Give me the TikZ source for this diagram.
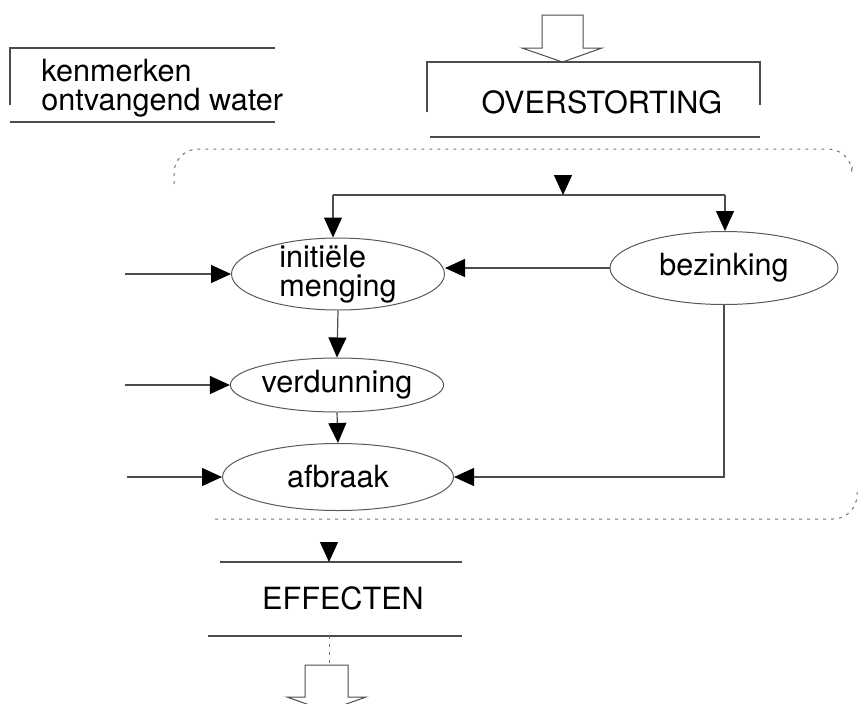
\documentclass[tikz,border=0pt]{standalone}
\usepackage{fontspec}
\setmainfont{TeX Gyre Heros}
\usepackage{tikz}
\usetikzlibrary{arrows.meta,shapes.geometric}
\newcommand{\labfont}{\fontsize{15.3}{14.8}\selectfont}
\tikzset{
  proc/.style={ellipse,draw=black!65,line width=0.5pt,inner sep=0pt,
    font=\labfont},
  lbl/.style={inner sep=0pt,font=\labfont},
  frame/.style={draw=black!70,line width=0.6pt},
  conn/.style={->,draw=black!70,line width=0.6pt},
  region/.style={draw=black!55,line width=0.5pt,dash pattern=on 1.5pt off 2.5pt,
    rounded corners=12pt},
  hollow/.style={draw=black!70,line width=0.5pt,line join=miter}
}

\begin{document}
\begin{tikzpicture}[x=0.5pt,y=-0.5pt,
  >={Triangle[length=10pt,width=9pt,color=black]}]
\useasboundingbox (0,0) rectangle (858,703);
% ---------------- inputs ----------------
\node[lbl,align=left,anchor=west] (kenm) at (41,88) {kenmerken\\ontvangend water};
\draw[frame] (275,48) -- (10,48) -- (10,105);
\draw[frame] (10,122) -- (275,122);
\draw[hollow] (542,15) -- (583,15) -- (583,48) -- (602,48) -- (562.5,62)
  -- (522,48) -- (542,48) -- cycle;
\node[lbl] (ovs) at (602,102) {OVERSTORTING};
\draw[frame] (427,112) |- (760,62) -- (760,105);
\draw[frame] (430,137) -- (760,137);
% ---------------- processes in the receiving water ----------------
\draw[region] (174,184) -- (174,149) -- (852,149) -- (852,162);
\draw[region] (215,519) -- (857,519) -- (857,492);
\node[proc,minimum width=106.5pt,minimum height=36pt,inner ysep=-4pt,
  align=left] (meng) at (338,274) {initiële\\menging};
\node[proc,minimum width=114pt,minimum height=36.5pt] (bez) at (724,268) {bezinking};
\node[proc,minimum width=105pt,minimum height=27pt] (verd) at (337,385) {verdunning};
\node[proc,minimum width=115.5pt,minimum height=33.5pt] (afb) at (338,477) {afbraak};
\coordinate (feedT) at (563,176);
\coordinate (feed) at (563,195);
\coordinate (split) at (333,195);
\coordinate (splitR) at (725,195);
\draw[conn] (feedT) -- (feed);
\draw[frame] (split) -- (splitR);
\draw[conn] (split) -- (split |- meng.north);
\draw[conn] (splitR) -- (splitR |- bez.north);
\draw[conn] (bez.west) -- (bez.west -| meng.east);
\draw[conn] (bez.south) |- (afb.east);
\draw[conn] (meng.south) -- (verd.north);
\draw[conn] (verd.south) -- (afb.north);
\coordinate (inM) at (125,274);
\coordinate (inV) at (125,385);
\coordinate (inA) at (127,477);
\draw[conn] (inM) -- (meng.west);
\draw[conn] (inV) -- (verd.west);
\draw[conn] (inA) -- (afb.west);
% ---------------- output ----------------
\node[lbl] (eff) at (343,598) {EFFECTEN};
\draw[frame] (220,562) -- (462,562);
\draw[frame] (208,636) -- (462,636);
\coordinate (effT) at (329,543);
\coordinate (effIn) at (329,562);
\coordinate (effOut) at (329,636);
\coordinate (effArr) at (329,665);
\draw[conn] (effT) -- (effIn);
\draw[region] (effOut) -- (effArr);
\begin{scope}
  \clip (0,0) rectangle (858,703);
  \draw[hollow] (305,665) -- (348,665) -- (348,697) -- (366,697) -- (326.5,711)
    -- (287,697) -- (305,697) -- cycle;
\end{scope}
\end{tikzpicture}
\end{document}
